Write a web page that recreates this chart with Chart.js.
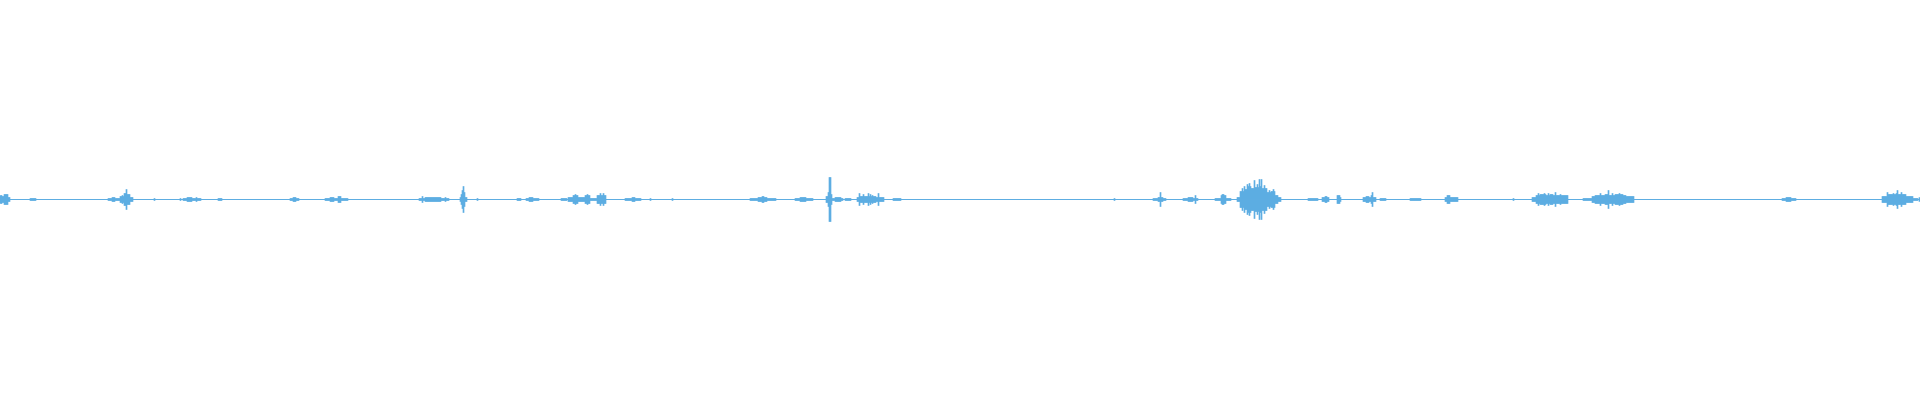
<!DOCTYPE html>
<html>
<head>
<meta charset="utf-8">
<script src="https://cdn.jsdelivr.net/npm/chart.js@4"></script>
<style>
  html, body { margin: 0; padding: 0; background: #ffffff; }
  #wrap { width: 1920px; height: 400px; position: relative; }
</style>
</head>
<body>
<div id="wrap"><canvas id="wave"></canvas></div>
<script>
// waveform: runs of pixel columns [start, end] with a peak amplitude (px)
const runStart = [0, 2, 4, 8, 30, 108, 112, 120, 122, 124, 126, 127, 130, 154, 180, 183, 187, 196, 218,
  290, 293, 325, 330, 338, 419, 422, 425, 445, 460, 461, 462, 463, 464, 465, 477, 517, 526, 529,
  561, 568, 573, 575, 577, 585, 587, 589, 597, 600, 603, 625, 632, 650, 672,
  750, 758, 762, 795, 800, 826, 828, 829, 831, 832, 835, 845, 857, 859, 860, 863, 868, 870, 872, 878, 893,
  1114, 1153, 1158, 1160, 1183, 1188, 1195, 1215, 1221, 1222,
  1237, 1240, 1242, 1244, 1245, 1247, 1248, 1249, 1251, 1254, 1255, 1257, 1259, 1260, 1261, 1262, 1264, 1267, 1269, 1271, 1273, 1275, 1278,
  1308, 1322, 1325, 1337, 1340, 1363, 1366, 1371, 1372, 1380, 1410, 1445, 1447, 1513,
  1532, 1536, 1538, 1540, 1544, 1548, 1550, 1555, 1560, 1583, 1592, 1595, 1600, 1605, 1608, 1612, 1615, 1619, 1626,
  1782, 1786, 1882, 1887, 1888, 1893, 1896, 1897, 1898, 1901, 1906, 1913, 1919];
const runEnd = [1, 3, 7, 9, 35, 119, 114, 123, 122, 125, 126, 129, 132, 154, 180, 200, 191, 196, 221,
  298, 295, 347, 333, 340, 448, 422, 440, 445, 460, 461, 462, 463, 464, 466, 477, 520, 538, 532,
  566, 573, 577, 575, 585, 589, 587, 597, 605, 600, 603, 640, 634, 650, 672,
  775, 766, 763, 812, 805, 827, 828, 830, 831, 842, 840, 850, 883, 859, 875, 863, 868, 870, 872, 878, 900,
  1114, 1165, 1162, 1160, 1197, 1192, 1195, 1230, 1225, 1223,
  1239, 1243, 1242, 1244, 1246, 1247, 1250, 1249, 1253, 1254, 1258, 1257, 1259, 1260, 1261, 1266, 1264, 1270, 1269, 1274, 1273, 1277, 1280,
  1317, 1328, 1326, 1339, 1340, 1375, 1368, 1371, 1372, 1385, 1420, 1457, 1449, 1513,
  1535, 1567, 1538, 1545, 1544, 1548, 1552, 1555, 1560, 1591, 1633, 1625, 1600, 1607, 1608, 1612, 1622, 1619, 1633,
  1795, 1790, 1886, 1887, 1895, 1893, 1896, 1897, 1905, 1901, 1912, 1917, 1919];
const runAmp = [4, 3, 5, 2, 1, 1, 2, 3, 4, 6, 10, 5, 2, 1, 1, 1, 2, 2, 1,
  1, 2, 1, 2, 3, 1, 3, 2, 2, 2, 5, 9, 13, 7, 2, 1, 1, 1, 2,
  1, 2, 4, 5, 2, 4, 5, 1, 4, 6, 6, 1, 2, 1, 1,
  1, 2, 3, 1, 2, 3, 7, 22, 5, 1, 2, 1, 2, 6, 3, 5, 6, 5, 4, 6, 1,
  1, 1, 2, 7, 1, 2, 4, 1, 4, 5,
  2, 8, 11, 13, 10, 15, 13, 16, 11, 19, 12, 15, 20, 13, 20, 11, 14, 7, 9, 8, 10, 4, 2,
  1, 2, 3, 4, 2, 2, 3, 4, 7, 1, 1, 2, 4, 1,
  2, 4, 6, 5, 6, 6, 5, 7, 5, 1, 3, 4, 6, 5, 9, 6, 5, 6, 2,
  1, 2, 3, 7, 5, 6, 6, 9, 5, 7, 3, 1, 2];

const waveColor = '#5dade2';
const width = 1920;

document.addEventListener('DOMContentLoaded', function () {
    const amp = new Array(width).fill(0);
    runStart.forEach(function (s, k) {
        for (let i = s; i <= runEnd[k]; i++) {
            amp[i] = Math.max(amp[i], runAmp[k]);
        }
    });
    const bars = [];
    amp.forEach(function (a, i) {
        if (a > 0) bars.push({ x: i + 0.5, y: [-a, a] });
    });

    const ctx = document.getElementById('wave').getContext('2d');
    new Chart(ctx, {
        type: 'bar',
        data: {
            datasets: [{
                type: 'line',
                data: [{ x: 0, y: 0 }, { x: width, y: 0 }],
                borderColor: waveColor,
                borderWidth: 1,
                pointRadius: 0
            }, {
                data: bars,
                backgroundColor: waveColor,
                borderWidth: 0,
                barThickness: 1,
                borderSkipped: false
            }]
        },
        options: {
            responsive: true,
            maintainAspectRatio: false,
            animation: false,
            layout: { padding: 0 },
            scales: {
                x: { type: 'linear', min: 0, max: width, offset: false, display: false },
                y: { min: -200.5, max: 199.5, display: false }
            },
            plugins: {
                legend: { display: false },
                tooltip: { enabled: false }
            }
        }
    });
});
</script>
</body>
</html>
